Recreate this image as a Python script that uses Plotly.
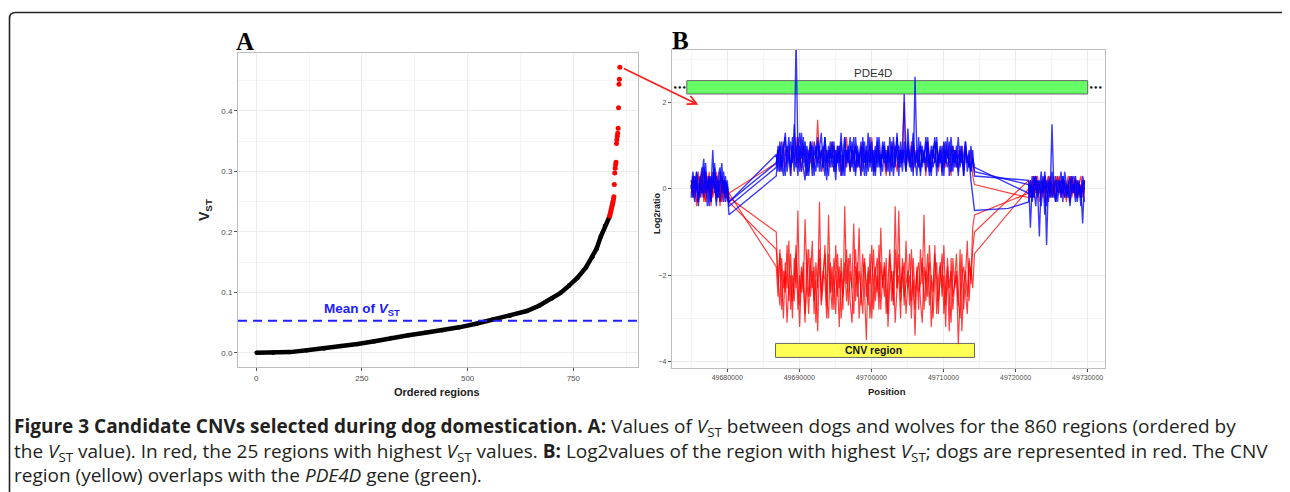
import numpy as np
import plotly.graph_objects as go

# page body has an 8px margin: figure is sized so it ends at the window edge
OFF = 8
W, H = 1290 - OFF, 492 - OFF

# ---------------- Panel A data ----------------
black_idx = [1, 40, 80, 120, 160, 200, 240, 280, 320, 360, 400, 440, 480, 520, 560,
             600, 640, 670, 700, 720, 740, 760, 780, 795, 805, 815, 825, 835]
black_vst = [0.000, 0.000, 0.001, 0.004, 0.007, 0.011, 0.0145, 0.019, 0.0245, 0.029,
             0.033, 0.037, 0.042, 0.048, 0.055, 0.061, 0.069, 0.078, 0.090, 0.099,
             0.111, 0.124, 0.141, 0.158, 0.172, 0.192, 0.210, 0.224]
red_idx = list(range(836, 861))
red_vst = [0.226, 0.229, 0.232, 0.235, 0.238, 0.241, 0.244, 0.247, 0.250, 0.254,
           0.258, 0.278, 0.297, 0.305, 0.311, 0.315, 0.346, 0.352, 0.358, 0.363,
           0.371, 0.405, 0.444, 0.452, 0.472]
mean_vst = 0.053

# ---------------- Panel B data ----------------
SEG_STARTS = [49675000, 49686800, 49721800]
SEG_COUNTS = [22, 111, 32]
PROBE_STEP = 250
GAP_PROBE = 49719000
pos = (list(SEG_STARTS[0] + PROBE_STEP * np.arange(SEG_COUNTS[0])) +
       list(SEG_STARTS[1] + PROBE_STEP * np.arange(SEG_COUNTS[1])) +
       [GAP_PROBE] +
       list(SEG_STARTS[2] + PROBE_STEP * np.arange(SEG_COUNTS[2])))

wolf_a_s1 = [0.1,-0.2,0.3,0.0,-0.3,0.2,0.5,-0.1,0.4,0.1,-0.4,0.3,0.0,0.6,-0.2,0.2,-0.3,0.1,0.4,-0.1,0.2,-0.3]
wolf_a_s2 = [0.6,0.9,0.4,1.1,0.7,0.3,1.0,0.8,0.5,1.2,
             0.7,3.5,0.9,0.4,1.3,0.6,1.0,0.3,0.8,1.1,
             0.5,0.9,0.7,1.2,0.4,0.8,1.0,0.3,0.9,0.6,
             1.1,0.5,0.8,0.2,1.0,0.7,1.3,0.4,0.9,0.6,
             0.8,1.2,0.5,0.9,0.3,1.0,0.7,1.1,0.4,0.8,
             0.6,1.3,0.5,0.9,0.7,0.3,1.1,0.8,0.5,1.0,
             0.6,0.9,0.4,1.2,0.7,0.5,1.0,0.8,0.3,1.1,
             0.6,0.9,0.5,1.4,0.7,0.4,1.0,0.8,0.6,1.2,
             0.3,0.9,0.7,1.1,0.5,0.8,0.4,1.0,0.6,1.2,
             0.5,0.9,0.7,0.3,1.1,0.8,0.6,1.0,0.4,0.9,
             0.7,1.2,0.5,0.8,0.3,1.0,0.6,0.9,0.4,0.7,0.5]
wolf_a_gap = None
wolf_a_s3 = [-0.1,0.2,-0.3,0.1,0.3,-0.2,0.0,0.4,-0.1,0.2,-0.4,0.1,0.3,-0.2,0.0,0.2,-0.3,0.1,0.4,-0.1,0.2,-0.2,0.0,0.3,-0.1,0.1,-0.3,0.2,0.0,-0.2,0.3,0.1]

wolf_b_s1 = [-0.2,0.3,0.0,0.4,-0.3,0.1,-0.1,0.5,0.2,-0.4,0.3,0.0,0.9,-0.1,0.3,-0.2,0.1,0.6,-0.3,0.2,0.0,-0.6]
wolf_b_s2 = [0.3,0.8,1.0,0.5,0.9,1.2,0.4,0.7,1.1,0.6,
             1.5,0.8,0.3,1.0,0.7,1.2,0.5,0.9,0.4,1.1,
             0.8,0.3,1.0,0.6,0.9,1.3,0.5,0.8,0.2,1.0,
             0.7,1.1,0.4,0.9,0.6,1.0,0.3,0.8,1.2,0.5,
             0.9,0.4,1.1,0.7,1.0,0.5,0.8,0.3,1.2,0.6,
             1.0,0.4,0.8,1.1,0.3,0.9,0.6,1.2,0.7,0.4,
             1.0,0.6,0.9,0.3,1.1,0.8,0.5,1.3,0.6,0.9,
             0.4,1.1,0.7,0.9,0.5,1.0,0.3,2.6,0.8,0.5,
             1.1,0.6,0.9,0.4,1.2,0.7,0.3,0.9,1.1,0.5,
             0.8,1.0,0.4,0.9,0.6,1.2,0.3,0.8,1.0,0.5,
             0.9,0.4,1.0,0.6,0.8,1.1,0.4,0.7,0.2,-0.2,-0.5]
wolf_b_gap = -0.45
wolf_b_s3 = [-0.3,0.1,-0.2,0.3,0.0,-0.1,0.2,-0.4,0.1,0.3,-1.3,0.2,-0.1,1.5,0.0,-0.3,0.2,0.1,-0.2,0.3,0.0,-0.1,0.2,-0.3,0.1,0.0,0.3,-0.2,0.1,-0.4,0.2,0.0]

wolf_c_s1 = [0.2,0.0,-0.3,0.4,0.1,-0.2,0.3,0.7,-0.1,0.2,0.0,-0.3,0.4,0.1,-0.4,0.3,0.5,-0.1,0.2,-0.3,0.1,-0.4]
wolf_c_s2 = [0.5,1.0,0.7,0.4,0.9,1.3,0.6,0.8,0.3,1.0,
             0.7,0.5,1.2,0.8,0.4,0.9,1.1,0.6,0.3,0.9,
             1.0,0.6,0.4,1.1,0.7,0.9,0.5,1.2,0.6,0.3,
             0.9,0.7,1.0,0.5,0.8,0.4,1.1,0.7,0.3,0.9,
             0.6,1.0,0.8,0.4,1.2,0.7,0.5,0.9,0.6,1.1,
             0.3,0.8,1.0,0.6,0.9,0.4,1.2,0.5,0.8,0.7,
             1.1,0.4,0.9,0.6,1.0,0.3,0.8,1.2,0.5,0.9,
             0.6,2.2,0.4,1.0,0.8,0.5,1.1,0.7,0.3,0.9,
             1.0,0.5,0.8,0.6,1.1,0.4,0.9,0.7,1.2,0.3,
             0.8,0.6,1.0,0.5,0.9,0.7,1.1,0.4,0.8,0.6,
             1.0,0.3,0.9,0.7,0.5,1.1,0.6,0.8,0.4,0.9,0.3]
wolf_c_gap = None
wolf_c_s3 = [0.2,-0.9,0.1,-0.2,0.3,0.0,-1.1,0.2,-0.1,0.4,0.0,-0.3,0.2,0.1,-0.2,0.3,-0.1,0.0,0.2,-0.3,0.4,0.1,-0.2,0.0,0.3,-0.1,0.2,-0.3,0.1,0.0,-0.8,0.2]

wolf_d_s1 = [0.0,0.4,-0.1,0.2,-0.4,0.3,0.1,-0.2,0.6,0.0,0.3,-0.3,0.2,0.5,0.0,-0.2,0.4,0.1,-0.1,0.3,-0.2,-0.3]
wolf_d_s2 = [0.8,0.4,1.1,0.6,0.3,0.9,0.7,1.2,0.5,0.8,
             0.4,1.0,0.6,1.3,0.8,0.5,0.2,1.0,0.7,0.9,
             0.3,1.1,0.8,0.5,1.0,0.4,0.7,1.2,0.6,0.9,
             0.5,0.8,1.1,0.4,1.0,0.6,0.8,0.3,1.2,0.7,
             1.0,0.5,0.7,1.2,0.4,0.9,0.6,1.0,0.8,0.3,
             0.9,0.6,1.2,0.4,0.7,1.0,0.5,0.9,0.3,1.1,
             0.8,0.5,1.0,0.7,0.4,1.2,0.6,0.9,1.0,0.5,
             0.9,0.7,0.4,1.1,0.6,0.8,1.3,0.5,0.9,0.7,
             0.4,1.0,0.6,1.2,0.8,0.3,1.0,0.5,0.7,1.1,
             0.6,0.9,0.3,1.1,0.7,0.5,0.8,1.2,0.6,0.9,
             0.5,0.8,0.6,1.0,0.3,0.9,0.7,0.5,1.0,0.6,0.4]
wolf_d_gap = None
wolf_d_s3 = [0.1,-0.2,0.3,0.0,-0.4,0.2,0.1,-0.1,0.3,-0.6,0.2,0.0,-0.2,0.4,0.1,-0.3,0.0,0.2,-0.1,0.3,-0.2,0.1,0.0,-0.4,0.2,0.3,-0.1,0.0,0.2,-0.2,0.1,-0.3]

dog_a_s1 = [0.1,-0.2,0.2,-0.4,0.0,0.3,-0.1,0.2,-0.3,0.1,0.4,-0.2,0.0,0.2,-0.3,0.1,-0.1,0.3,0.0,-0.2,0.1,-0.2]
dog_a_s2 = [-1.0,-2.2,-1.5,-2.8,-1.9,-2.4,-1.3,-2.6,-2.0,-3.0,
            -1.6,-2.3,-0.5,-2.7,-1.8,-2.2,-3.1,-1.4,-2.5,-2.0,
            -1.2,-2.9,-1.7,-2.3,-0.3,-2.6,-1.9,-2.1,-3.0,-1.5,
            -2.4,-1.8,-2.8,-1.3,-2.2,-3.2,-1.6,-2.5,-2.0,-1.4,
            -2.7,-1.9,-2.3,-0.8,-2.6,-1.7,-3.0,-2.1,-1.5,-2.4,
            -3.5,-1.8,-2.2,-1.3,-2.8,-2.0,-1.6,-2.5,-0.9,-2.3,
            -1.7,-2.9,-2.1,-1.4,-2.6,-1.9,-3.1,-2.2,-1.5,-2.4,
            -1.8,-2.7,-1.2,-2.3,-2.0,-3.0,-1.6,-2.5,-1.9,-2.8,
            -1.4,-2.2,-0.6,-2.6,-2.0,-1.7,-3.2,-2.4,-1.5,-2.1,
            -2.9,-1.8,-2.3,-1.3,-2.7,-2.0,-3.3,-1.6,-2.5,-2.2,
            -1.9,-3.6,-2.4,-1.5,-2.8,-2.1,-1.2,-2.6,-1.8,-2.3,-1.5]
dog_a_gap = None
dog_a_s3 = [0.0,-0.2,0.1,0.3,-0.1,0.2,-0.3,0.0,0.2,-0.1,0.1,0.3,-0.2,0.0,0.2,-0.1,0.3,0.0,-0.2,0.1,0.2,-0.1,0.0,0.3,-0.2,0.1,0.0,0.2,-0.1,0.1,-0.2,0.0]

dog_b_s1 = [-0.1,0.2,0.0,-0.3,0.3,0.1,-0.2,0.4,0.0,-0.1,0.2,-0.4,0.1,0.3,-0.2,0.0,0.2,-0.3,0.1,0.0,-0.3,-0.1]
dog_b_s2 = [-1.8,-2.5,-1.4,-2.1,-3.0,-1.7,-2.3,-1.2,-2.8,-2.0,
            -2.6,-1.5,-2.2,-3.2,-1.9,-2.4,-0.7,-2.1,-2.9,-1.6,
            -2.3,-1.8,-3.1,-2.0,-1.4,-2.7,-2.2,-1.3,-2.5,-3.0,
            -1.7,-2.4,-2.0,-2.9,-1.5,-2.3,-1.9,-2.8,-0.4,-2.2,
            -1.6,-2.6,-3.1,-2.0,-1.4,-2.5,-1.9,-2.3,-2.9,-1.7,
            -2.2,-2.7,-1.5,-3.0,-2.1,-1.8,-2.4,-1.3,-2.8,-2.0,
            -2.5,-1.6,-3.2,-2.2,-1.9,-2.7,-1.4,-2.3,-0.5,-2.6,
            -2.0,-1.7,-2.9,-2.3,-1.5,-2.6,-2.1,-3.4,-1.8,-2.4,
            -2.2,-1.6,-2.8,-1.9,-2.5,-1.3,-2.3,-3.0,-2.0,-1.7,
            -2.6,-2.1,-1.5,-2.9,-2.2,-1.8,-2.4,-3.1,-1.6,-2.3,
            -2.0,-2.7,-1.4,-3.3,-2.2,-1.9,-2.5,-1.6,-2.1,-0.9,-0.6]
dog_b_gap = None
dog_b_s3 = [-0.1,0.2,0.0,-0.2,0.1,0.3,-0.1,0.0,0.2,-0.3,0.1,0.0,0.2,-0.1,0.3,-0.2,0.0,0.1,-0.1,0.2,0.0,-0.3,0.1,0.2,-0.1,0.0,0.3,-0.2,0.1,0.0,-0.1,0.2]

dog_c_s1 = [0.2,-0.1,0.3,0.0,-0.2,0.1,0.4,-0.3,0.0,0.2,-0.1,0.3,-0.2,0.1,0.0,0.3,-0.4,0.1,0.2,-0.2,0.0,-0.3]
dog_c_s2 = [-1.4,-2.0,-2.7,-1.6,-2.3,-1.9,-3.1,-2.2,-1.5,-2.6,
            -2.1,-1.3,-2.8,-2.0,-2.4,-1.7,-2.9,-2.2,-1.4,-2.5,
            -1.9,-2.6,-2.1,-3.3,-1.6,-2.4,-2.0,-1.5,-2.7,-0.6,
            -2.2,-2.8,-1.6,-2.1,-2.5,-1.8,-3.0,-2.3,-1.7,-2.6,
            -2.0,-1.5,-2.4,-2.9,-1.8,-2.2,-0.9,-2.7,-2.1,-1.6,
            -2.5,-1.9,-3.0,-2.3,-1.4,-2.6,-2.0,-2.8,-1.7,-2.2,
            -1.8,-2.4,-2.9,-1.5,-2.1,-2.6,-0.4,-2.3,-2.0,-3.0,
            -1.6,-2.5,-2.2,-1.9,-2.7,-1.4,-2.3,-2.8,-2.0,-1.7,
            -2.6,-3.1,-1.8,-2.2,-1.5,-2.7,-2.0,-2.4,-1.3,-2.9,
            -2.1,-1.7,-2.5,-2.0,-3.2,-1.6,-2.3,-1.9,-2.8,-2.2,
            -1.5,-2.6,-3.0,-2.0,-1.8,-2.4,-2.9,-1.7,-2.2,-1.4,-1.0]
dog_c_gap = None
dog_c_s3 = [0.2,0.0,-0.2,0.1,0.3,-0.1,0.0,0.2,-0.2,0.1,0.0,0.3,-0.1,0.2,0.0,-0.2,0.1,0.3,0.0,-0.1,0.2,-0.2,0.1,0.0,0.3,-0.1,0.0,0.2,-0.2,0.1,0.0,0.2]

dog_d_s1 = [0.0,0.3,-0.2,0.1,0.4,-0.1,0.2,0.0,-0.3,0.3,0.1,-0.2,0.2,0.0,0.4,-0.1,0.1,-0.3,0.2,0.0,-0.2,-0.1]
dog_d_s2 = [0.6,0.9,0.4,0.8,1.1,0.5,0.7,1.0,0.3,0.9,
            0.6,1.2,0.5,0.8,0.4,1.0,0.7,0.3,0.9,0.6,
            1.1,0.5,0.8,1.6,0.6,0.9,0.4,1.0,0.7,0.5,
            0.8,1.1,0.4,0.9,0.6,1.0,0.3,0.8,0.5,1.2,
            0.7,0.4,0.9,0.6,1.0,0.5,0.8,0.3,1.1,0.7,
            0.5,0.9,0.6,1.2,0.4,0.8,0.7,1.0,0.5,0.9,
            0.6,0.3,1.0,0.7,0.5,1.1,0.8,0.4,0.9,0.6,
            1.0,2.0,0.5,0.8,0.6,1.1,0.4,0.9,0.7,0.5,
            1.0,0.6,0.8,0.3,1.1,0.7,0.5,0.9,0.6,1.0,
            0.4,0.8,0.7,1.1,0.5,0.9,0.6,0.3,1.0,0.7,
            0.5,0.9,0.6,1.0,0.4,0.8,0.7,0.5,0.9,0.3,0.1]
dog_d_gap = None
dog_d_s3 = [-0.2,0.1,0.0,0.3,-0.1,0.2,0.0,-0.2,0.1,0.3,-0.1,0.0,0.2,-0.2,0.1,0.0,0.3,-0.1,0.2,0.0,-0.2,0.1,0.3,0.0,-0.1,0.2,-0.2,0.0,0.1,0.3,-0.1,0.0]

dogs = [(dog_a_s1, dog_a_s2, dog_a_gap, dog_a_s3),
        (dog_b_s1, dog_b_s2, dog_b_gap, dog_b_s3),
        (dog_c_s1, dog_c_s2, dog_c_gap, dog_c_s3),
        (dog_d_s1, dog_d_s2, dog_d_gap, dog_d_s3)]
wolves = [(wolf_a_s1, wolf_a_s2, wolf_a_gap, wolf_a_s3),
          (wolf_b_s1, wolf_b_s2, wolf_b_gap, wolf_b_s3),
          (wolf_c_s1, wolf_c_s2, wolf_c_gap, wolf_c_s3),
          (wolf_d_s1, wolf_d_s2, wolf_d_gap, wolf_d_s3)]

gene_name = "PDE4D"
gene_start, gene_end = 49674400, 49730000
cnv_start, cnv_end = 49686700, 49714300

# ---------------- helpers (window pixel -> paper) ----------------
def px(x):
    return (x - OFF) / W

def py(y):
    return 1 - (y - OFF) / H

fig = go.Figure()

# Panel A
fig.add_trace(go.Scatter(x=black_idx, y=black_vst, mode="lines+markers",
                         line=dict(color="black", width=4.5), marker=dict(color="black", size=4.5),
                         xaxis="x", yaxis="y", hoverinfo="skip"))
fig.add_trace(go.Scatter(x=red_idx, y=red_vst, mode="markers",
                         marker=dict(color="#ff0000", size=5),
                         xaxis="x", yaxis="y", hoverinfo="skip"))

# Panel B
def full(series):
    s1, s2, g, s3 = series
    return list(s1) + list(s2) + [g] + list(s3)

for s in dogs:
    fig.add_trace(go.Scatter(x=pos, y=full(s), mode="lines", connectgaps=True,
                             line=dict(color="rgba(255,0,0,0.75)", width=1.2),
                             xaxis="x2", yaxis="y2", hoverinfo="skip"))
for s in wolves:
    fig.add_trace(go.Scatter(x=pos, y=full(s), mode="lines", connectgaps=True,
                             line=dict(color="rgba(0,0,255,0.78)", width=1.4),
                             xaxis="x2", yaxis="y2", hoverinfo="skip"))

grid_major = "#ebebeb"
grid_minor = "#f5f5f5"
frame_col = "#bdbdbd"
tick_font = dict(family="Liberation Sans, Arial", size=8, color="#4d4d4d")

common_axis = dict(showline=True, linecolor=frame_col, linewidth=1, mirror=True,
                   gridcolor=grid_major, gridwidth=1, zeroline=False,
                   ticks="outside", ticklen=3, tickcolor="#555", tickwidth=1)

fig.update_layout(
    width=W, height=H, margin=dict(l=0, r=0, t=0, b=0),
    paper_bgcolor="white", plot_bgcolor="white", showlegend=False,
    xaxis=dict(domain=[px(238), px(638)], range=[-43, 903], tick0=0, dtick=250,
               tickfont=tick_font, anchor="y",
               minor=dict(showgrid=True, gridcolor=grid_minor, dtick=125, tick0=0), **common_axis),
    yaxis=dict(domain=[py(367), py(53)], range=[-0.0236, 0.4956], tick0=0, dtick=0.1,
               tickformat=".1f", tickfont=tick_font, anchor="x",
               minor=dict(showgrid=True, gridcolor=grid_minor, dtick=0.05, tick0=0), **common_axis),
    xaxis2=dict(domain=[px(671.7), px(1105)], range=[49672300, 49732400], tick0=49680000,
                dtick=10000, tickformat="d", anchor="y2",
                tickfont=dict(family="Liberation Sans, Arial", size=7, color="#4d4d4d"),
                minor=dict(showgrid=True, gridcolor=grid_minor, dtick=5000, tick0=49680000), **common_axis),
    yaxis2=dict(domain=[py(368), py(50)], range=[-4.15, 3.22], tick0=0, dtick=2, anchor="x2",
                tickfont=dict(family="Liberation Sans, Arial", size=7, color="#4d4d4d"),
                minor=dict(showgrid=True, gridcolor=grid_minor, dtick=1, tick0=0), **common_axis),
)

shapes = []
# mean line
shapes.append(dict(type="line", xref="x domain", yref="y", x0=0, x1=1, y0=mean_vst, y1=mean_vst,
                   line=dict(color="#2020ff", width=2, dash="9px,6px")))
# gene and CNV boxes
shapes.append(dict(type="rect", xref="x2", yref="y2", x0=gene_start, x1=gene_end, y0=2.20, y1=2.51,
                   fillcolor="#66ff66", line=dict(color="#666666", width=1), layer="between"))
shapes.append(dict(type="rect", xref="x2", yref="y2", x0=cnv_start, x1=cnv_end, y0=-3.905, y1=-3.58,
                   fillcolor="#ffff55", line=dict(color="#666666", width=1), layer="between"))
# outer rounded frame
x0f, y0f, x1f, ybf, r = 9.5, 12.5, 1289.5, 500, 6
path = (f"M {px(x0f)},{py(ybf)} L {px(x0f)},{py(y0f + r)} Q {px(x0f)},{py(y0f)} {px(x0f + r)},{py(y0f)} "
        f"L {px(x1f - r)},{py(y0f)} Q {px(x1f)},{py(y0f)} {px(x1f)},{py(y0f + r)} L {px(x1f)},{py(ybf)}")
shapes.append(dict(type="path", xref="paper", yref="paper", path=path,
                   line=dict(color="#222222", width=1.6)))
fig.update_layout(shapes=shapes)

ann = []
bold_font = dict(family="Liberation Sans, Arial", color="#222222")

def lab(x, y, text, font, angle=0, xanchor="center"):
    return dict(x=px(x), y=py(y), xref="paper", yref="paper", text=text, showarrow=False,
                textangle=angle, xanchor=xanchor, yanchor="middle", font=font)

# panel letters
ann.append(lab(245, 42, "<b>A</b>", dict(family="Liberation Serif, Times New Roman", size=25, color="black")))
ann.append(lab(680, 41, "<b>B</b>", dict(family="Liberation Serif, Times New Roman", size=25, color="black")))
# axis titles
ann.append(lab(437, 392, "<b>Ordered regions</b>", dict(size=11, **bold_font)))
ann.append(lab(205, 210, "<b>V<sub>ST</sub></b>", dict(size=14, **bold_font), angle=-90))
ann.append(lab(887, 391, "<b>Position</b>", dict(size=9.5, **bold_font)))
ann.append(lab(657, 213, "<b>Log2ratio</b>", dict(size=9, **bold_font), angle=-90))
# mean label
ann.append(dict(x=250, y=0.071, xref="x", yref="y", text="<b>Mean of <i>V</i><sub>ST</sub></b>",
                showarrow=False, xanchor="center", yanchor="middle",
                font=dict(family="Liberation Sans, Arial", size=13.5, color="#2020ff")))
# gene / CNV labels
ann.append(dict(x=49700200, y=2.69, xref="x2", yref="y2", text=gene_name, showarrow=False,
                xanchor="center", yanchor="middle",
                font=dict(family="Liberation Sans, Arial", size=11.5, color="#333333")))
ann.append(dict(x=49700300, y=-3.74, xref="x2", yref="y2", text="<b>CNV region</b>", showarrow=False,
                xanchor="center", yanchor="middle",
                font=dict(family="Liberation Sans, Arial", size=10.5, color="#111111")))
for xd in (49673450, 49731150):
    ann.append(dict(x=xd, y=2.35, xref="x2", yref="y2", text="<b>•••</b>", showarrow=False,
                    xanchor="center", yanchor="middle",
                    font=dict(family="DejaVu Sans", size=7, color="#111111")))
# arrow from top region in A to panel B
ann.append(dict(x=49676000, y=1.95, xref="x2", yref="y2", ax=-76, ay=-37, axref="pixel", ayref="pixel",
                text="", showarrow=True, arrowhead=5, arrowsize=1.1, arrowwidth=1.6, arrowcolor="#ff1a1a"))
# caption (one multi-line text block)
cap_font = dict(family="Open Sans, Noto Sans", size=19, color="#231f20")
VST = "<i>V</i><sub>ST</sub>"
cap_lines = [
    "<b>Figure 3 Candidate CNVs selected during dog domestication. A:</b> Values of " + VST +
    " between dogs and wolves for the 860 regions (ordered by",
    "the " + VST + " value). In red, the 25 regions with highest " + VST +
    " values. <b>B:</b> Log2values of the region with highest " + VST +
    "; dogs are represented in red. The CNV",
    "region (yellow) overlaps with the <i>PDE4D</i> gene (green).",
]
ann.append(dict(x=px(12), y=py(411), xref="paper", yref="paper", text="<br>".join(cap_lines),
                showarrow=False, xanchor="left", yanchor="top", align="left", font=cap_font))
fig.update_layout(annotations=ann)

fig.write_html("out.html")
